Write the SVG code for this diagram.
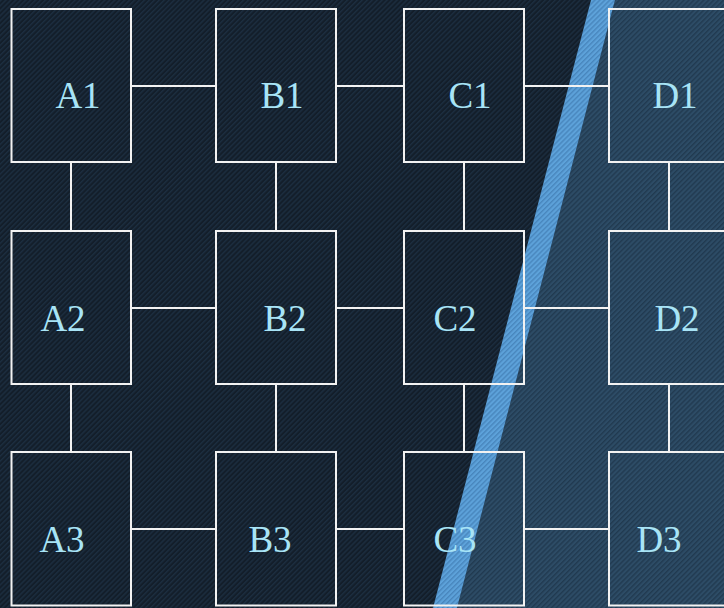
<svg xmlns="http://www.w3.org/2000/svg" width="724" height="608" viewBox="0 0 724 608">
<defs>
<pattern id="pDark" patternUnits="userSpaceOnUse" width="3.5" height="10" patternTransform="rotate(45)">
<rect width="3.5" height="10" fill="#131e2a"/>
<rect width="1.4" height="10" fill="#1c2e40"/>
</pattern>
<pattern id="pLight" patternUnits="userSpaceOnUse" width="3.5" height="10" patternTransform="rotate(45)">
<rect width="3.5" height="10" fill="#2d4c66"/>
<rect width="1.4" height="10" fill="#213a50"/>
</pattern>
<pattern id="pBand" patternUnits="userSpaceOnUse" width="3.5" height="10" patternTransform="rotate(45)">
<rect width="3.5" height="10" fill="#5da2da"/>
<rect width="1.4" height="10" fill="#4886bd"/>
</pattern>
<style>
.box{fill:none;stroke:#f2f2f2;stroke-width:2}
.lbl{font-family:"Liberation Serif","Times New Roman",serif;font-size:37px;fill:#a8e4f6;text-anchor:middle}
.con line{stroke:#f2f2f2;stroke-width:2}
</style>
</defs>
<g id="background">
<rect width="724" height="608" fill="url(#pDark)"/>
<polygon points="615,0 724,0 724,608 457,608" fill="url(#pLight)"/>
<polygon points="591,0 615,0 457,608 433,608" fill="url(#pBand)"/>
</g>
<g id="connectors" class="con">
<line x1="131" y1="86" x2="216" y2="86"/>
<line x1="336" y1="86" x2="404" y2="86"/>
<line x1="524" y1="86" x2="609" y2="86"/>
<line x1="131" y1="308" x2="216" y2="308"/>
<line x1="336" y1="308" x2="404" y2="308"/>
<line x1="524" y1="308" x2="609" y2="308"/>
<line x1="131" y1="529" x2="216" y2="529"/>
<line x1="336" y1="529" x2="404" y2="529"/>
<line x1="524" y1="529" x2="609" y2="529"/>
<line x1="71" y1="162" x2="71" y2="231"/>
<line x1="276" y1="162" x2="276" y2="231"/>
<line x1="464" y1="162" x2="464" y2="231"/>
<line x1="669" y1="162" x2="669" y2="231"/>
<line x1="71" y1="384" x2="71" y2="452"/>
<line x1="276" y1="384" x2="276" y2="452"/>
<line x1="464" y1="384" x2="464" y2="452"/>
<line x1="669" y1="384" x2="669" y2="452"/>
</g>
<g id="A1"><rect class="box" x="11.5" y="9" width="119.5" height="153"/><text class="lbl" x="78" y="108">A1</text></g>
<g id="B1"><rect class="box" x="216" y="9" width="120" height="153"/><text class="lbl" x="282" y="108">B1</text></g>
<g id="C1"><rect class="box" x="404" y="9" width="120" height="153"/><text class="lbl" x="470" y="108">C1</text></g>
<g id="D1"><rect class="box" x="609" y="9" width="120" height="153"/><text class="lbl" x="675" y="108">D1</text></g>
<g id="A2"><rect class="box" x="11.5" y="231" width="119.5" height="153"/><text class="lbl" x="63" y="331">A2</text></g>
<g id="B2"><rect class="box" x="216" y="231" width="120" height="153"/><text class="lbl" x="285" y="331">B2</text></g>
<g id="C2"><rect class="box" x="404" y="231" width="120" height="153"/><text class="lbl" x="455" y="331">C2</text></g>
<g id="D2"><rect class="box" x="609" y="231" width="120" height="153"/><text class="lbl" x="677" y="331">D2</text></g>
<g id="A3"><rect class="box" x="11.5" y="452" width="119.5" height="153.5"/><text class="lbl" x="62" y="552">A3</text></g>
<g id="B3"><rect class="box" x="216" y="452" width="120" height="153.5"/><text class="lbl" x="270" y="552">B3</text></g>
<g id="C3"><rect class="box" x="404" y="452" width="120" height="153.5"/><text class="lbl" x="455" y="552">C3</text></g>
<g id="D3"><rect class="box" x="609" y="452" width="120" height="153.5"/><text class="lbl" x="659" y="552">D3</text></g>
</svg>
